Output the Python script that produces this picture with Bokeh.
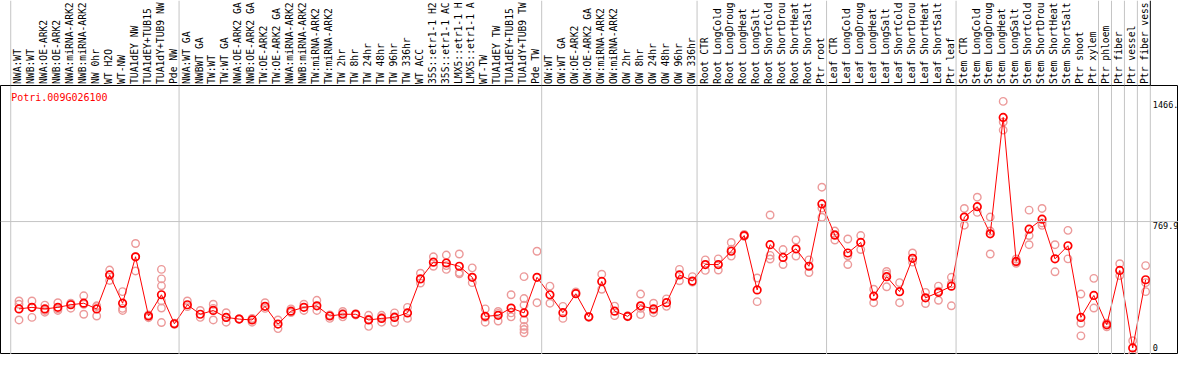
import numpy as np
from bokeh.plotting import figure
from bokeh.models import Range1d, Span, Label
from bokeh.layouts import column
from bokeh.core.properties import value
from bokeh.embed import file_html
from bokeh.resources import INLINE

gene_name = "Potri.009G026100"

# sample names as they appear (truncated to the header height) in the reference
samples = [
    "NWA:WT", "NWB:WT", "NWA:OE-ARK2", "NWB:OE-ARK2", "NWA:miRNA-ARK2", "NWB:miRNA-ARK2",
    "NW 0hr", "WT H2O", "WT-NW", "TUA1dEY NW", "TUA1dEY+TUB15", "TUA1dY+TUB9 NW", "Pde NW",
    "NWA:WT GA", "NWBWT GA", "TW:WT", "TW:WT GA", "NWA:OE-ARK2 GA", "NWB:OE-ARK2 GA",
    "TW:OE-ARK2", "TW:OE-ARK2 GA", "NWA:miRNA-ARK2", "NWB:miRNA-ARK2", "TW:miRNA-ARK2",
    "TW:miRNA-ARK2", "TW 2hr", "TW 8hr", "TW 24hr", "TW 48hr", "TW 96hr", "TW 336hr",
    "WT ACC", "35S::etr1-1 H2", "35S::etr1-1 AC", "LMX5::etr1-1 H", "LMX5::etr1-1 A",
    "WT-TW", "TUA1dEY TW", "TUA1dEY+TUB15", "TUA1dY+TUB9 TW", "Pde TW",
    "OW:WT", "OW:WT GA", "OW:OE-ARK2", "OW:OE-ARK2 GA", "OW:miRNA-ARK2", "OW:miRNA-ARK2",
    "OW 2hr", "OW 8hr", "OW 24hr", "OW 48hr", "OW 96hr", "OW 336hr",
    "Root CTR", "Root LongCold", "Root LongDroug", "Root LongHeat", "Root LongSalt",
    "Root ShortCold", "Root ShortDrou", "Root ShortHeat", "Root ShortSalt", "Ptr root",
    "Leaf CTR", "Leaf LongCold", "Leaf LongDroug", "Leaf LongHeat", "Leaf LongSalt",
    "Leaf ShortCold", "Leaf ShortDrou", "Leaf ShortHeat", "Leaf ShortSalt", "Ptr leaf",
    "Stem CTR", "Stem LongCold", "Stem LongDroug", "Stem LongHeat", "Stem LongSalt",
    "Stem ShortCold", "Stem ShortDrou", "Stem ShortHeat", "Stem ShortSalt", "Ptr shoot",
    "Ptr xylem", "Ptr phloem", "Ptr fiber", "Ptr vessel", "Ptr fiber vess",
]

means = [
    264, 273, 264, 273, 288, 297, 264, 461, 297, 566, 223, 346, 178,
    288, 233, 255, 215, 205, 200, 279, 176, 251, 273, 282, 223, 233, 233, 200, 209, 215, 241,
    438, 535, 530, 511, 447, 221, 227, 269, 241, 447,
    346, 242, 352, 218, 423, 251, 221, 282, 264, 300, 461, 425,
    521, 521, 598, 689, 374, 636, 562, 612, 511, 872,
    691, 588, 649, 338, 451, 364, 557, 328, 360, 396,
    796, 856, 699, 1373, 539, 726, 784, 554, 630, 215,
    342, 172, 487, 38, 433,
]

replicates = [
    [310, 291, 200], [310, 273, 215], [286, 245, 255], [300, 255, 264], [291, 268, 297],
    [340, 233, 291], [282, 223, 277], [489, 429, 461], [364, 255, 267], [643, 484, 566],
    [213, 229, 223], [493, 438, 398, 310, 269, 185], [181, 174],
    [310, 277], [255, 215], [291, 200, 267], [242, 187, 215], [205, 208], [209, 187, 202],
    [300, 267], [200, 150], [264, 243], [291, 255], [314, 255], [209, 229],
    [249, 218, 238], [237, 229], [227, 163, 205], [187, 227, 215], [241, 185, 219], [273, 209],
    [471, 414], [566, 511], [576, 493, 515], [582, 475, 467], [502, 416],
    [264, 187, 215], [249, 194, 238], [346, 241, 218], [451, 324, 286, 200, 163, 145, 126],
    [598, 300],
    [396, 297], [279, 209], [362, 357], [219, 215], [465, 378], [280, 225], [224, 219],
    [350, 231, 267], [297, 242, 258], [322, 279], [493, 427], [451, 420],
    [548, 487], [554, 489], [649, 570, 610], [696, 684], [443, 306],
    [808, 574, 553], [608, 521], [663, 570], [548, 475], [969, 795, 848],
    [715, 663, 696], [669, 521, 572], [689, 608], [378, 300], [481, 392, 467],
    [416, 300], [588, 535], [360, 295], [396, 314, 367], [447, 282, 410],
    [846, 749], [911, 823], [796, 582, 715], [1466, 1346, 1300], [528, 553, 534],
    [836, 689, 636], [846, 748, 762], [636, 479], [719, 554], [350, 181, 108],
    [441, 269], [181, 160], [526, 457], [80, 2], [515, 364, 416],
]

group_breaks = [-0.5, 12.5, 40.5, 52.5, 62.5, 72.5, 83.5, 84.5, 85.5, 86.5, 87.5]
tick_values = [1466, 769.9, 0]
tick_labels = ["1466.", "769.9", "0"]

# ---- layout constants (pixels) ----
W = 1178
H_HEAD = 85
H_MAIN = 269
Y_TOP = 1558
C0 = 18.5        # pixel centre of first column
SP = 12.95       # pixel spacing between columns
LINE_SHIFT = -1.8 / SP
TEXT_SHIFT = -1.3 / SP
PX_Y = Y_TOP / H_MAIN   # data units per pixel (vertical)
FONT = "DejaVu Sans Mono"
GRID = "#c4c4c4"
REP_COLOR = "#ec9a9a"

x0 = -C0 / SP
x1 = (W - C0) / SP
xr = Range1d(x0, x1)
xs = list(range(len(samples)))

# ---- header with rotated sample names ----
head = figure(width=W, height=H_HEAD, x_range=xr, y_range=Range1d(0, H_HEAD),
              toolbar_location=None, output_backend="svg",
              x_axis_location=None, y_axis_location=None,
              min_border=0, outline_line_color=None,
              background_fill_color="white", border_fill_color="white")
head.xgrid.grid_line_color = None
head.ygrid.grid_line_color = None
for b in group_breaks:
    head.add_layout(Span(location=b + LINE_SHIFT, dimension="height",
                         line_color="black" if b == group_breaks[-1] else GRID,
                         line_width=1))
head.text(x=[i + TEXT_SHIFT for i in xs], y=1.5, text=samples, angle=np.pi / 2,
          text_align="left", text_baseline="middle",
          text_font=value(FONT), text_font_size="9.7px", text_color="black")

# ---- main plot ----
main = figure(width=W, height=H_MAIN, x_range=xr, y_range=Range1d(0, Y_TOP),
              toolbar_location=None, output_backend="svg",
              x_axis_location=None, y_axis_location=None,
              min_border=0, outline_line_color="black", outline_line_width=1,
              background_fill_color="white", border_fill_color="white")
main.xgrid.grid_line_color = None
main.ygrid.grid_line_color = None
for b in group_breaks:
    main.add_layout(Span(location=b + LINE_SHIFT, dimension="height",
                         line_color=GRID, line_width=1))
main.add_layout(Span(location=tick_values[1], dimension="width",
                     line_color=GRID, line_width=1))

rep_x = [i for i, r in enumerate(replicates) for _ in r]
rep_y = [v for r in replicates for v in r]
main.scatter(rep_x, rep_y, marker="circle", size=7.5, fill_color=None,
             line_color=REP_COLOR, line_width=1.4)
main.line(xs, means, line_color="red", line_width=1)
main.scatter(xs, means, marker="circle", size=7.5, fill_color=None,
             line_color="red", line_width=1.7)

lx = 87.5 + LINE_SHIFT + 2.5 / SP
main.text(x=lx, y=tick_values[:2], text=tick_labels[:2], text_align="left",
          text_baseline="top", text_font=value(FONT), text_font_size="8.5px",
          text_color="black")
main.text(x=lx, y=[v + 7 * PX_Y for v in tick_values[2:]], text=tick_labels[2:],
          text_align="left", text_baseline="middle", text_font=value(FONT),
          text_font_size="8.5px", text_color="black")

main.add_layout(Label(x=-0.5 + LINE_SHIFT + 0.5 / SP, y=1488, text=gene_name,
                      text_color="red", text_font=FONT, text_font_size="10px",
                      text_baseline="middle"))

layout = column(head, main, spacing=0)
open("out.html", "w").write(file_html(layout, INLINE))
